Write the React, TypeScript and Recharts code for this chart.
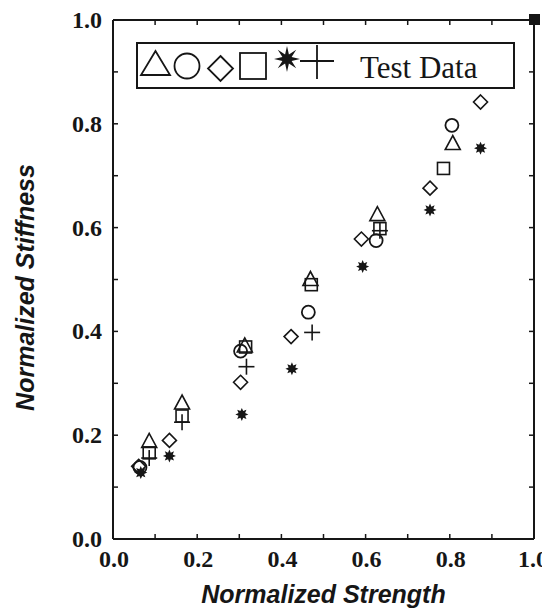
import React from 'react';
import { ScatterChart, Scatter, XAxis, YAxis, Legend } from 'recharts';

// test data, one array per marker type
const triangleData = [
  { x: 0.086, y: 0.188 },
  { x: 0.164, y: 0.262 },
  { x: 0.313, y: 0.372 },
  { x: 0.469, y: 0.5 },
  { x: 0.628, y: 0.625 },
  { x: 0.807, y: 0.762 },
];
const circleData = [
  { x: 0.064, y: 0.138 },
  { x: 0.303, y: 0.362 },
  { x: 0.464, y: 0.437 },
  { x: 0.625, y: 0.575 },
  { x: 0.805, y: 0.797 },
];
const diamondData = [
  { x: 0.061, y: 0.14 },
  { x: 0.134, y: 0.19 },
  { x: 0.303, y: 0.302 },
  { x: 0.423, y: 0.39 },
  { x: 0.59, y: 0.578 },
  { x: 0.753, y: 0.676 },
  { x: 0.873, y: 0.842 },
];
const squareData = [
  { x: 0.086, y: 0.166 },
  { x: 0.164, y: 0.237 },
  { x: 0.315, y: 0.37 },
  { x: 0.471, y: 0.49 },
  { x: 0.634, y: 0.598 },
  { x: 0.785, y: 0.714 },
];
const starData = [
  { x: 0.066, y: 0.128 },
  { x: 0.134, y: 0.16 },
  { x: 0.306, y: 0.24 },
  { x: 0.425, y: 0.328 },
  { x: 0.593, y: 0.525 },
  { x: 0.753, y: 0.634 },
  { x: 0.873, y: 0.753 },
];
const plusData = [
  { x: 0.086, y: 0.156 },
  { x: 0.164, y: 0.225 },
  { x: 0.317, y: 0.332 },
  { x: 0.473, y: 0.398 },
  { x: 0.634, y: 0.594 },
];
const cornerData = [{ x: 1.0, y: 1.0 }];

const tickValues = [0, 0.1, 0.2, 0.3, 0.4, 0.5, 0.6, 0.7, 0.8, 0.9, 1.0];
const legendText = 'Test Data';

const INK = '#161616';
const SERIF = '"Liberation Serif", "Times New Roman", serif';
const SANS = '"Liberation Sans", Arial, sans-serif';

const isMajor = (v: number) => Math.round(v * 10) % 2 === 0;

// marker shapes
const Triangle = ({ cx, cy }: any) => (
  <polygon points={`${cx},${cy - 8} ${cx - 7.5},${cy + 6} ${cx + 7.5},${cy + 6}`} fill="none" stroke={INK} strokeWidth={1.6} />
);
const Circle = ({ cx, cy }: any) => <circle cx={cx} cy={cy} r={6.5} fill="none" stroke={INK} strokeWidth={1.8} />;
const Diamond = ({ cx, cy }: any) => (
  <polygon points={`${cx},${cy - 7} ${cx + 7},${cy} ${cx},${cy + 7} ${cx - 7},${cy}`} fill="none" stroke={INK} strokeWidth={1.6} />
);
const Square = ({ cx, cy }: any) => (
  <rect x={cx - 6} y={cy - 6} width={12} height={12} fill="none" stroke={INK} strokeWidth={1.6} />
);
const starPoints = (cx: number, cy: number, ro: number, ri: number) => {
  const pts: string[] = [];
  for (let i = 0; i < 16; i++) {
    const r = i % 2 === 0 ? ro : ri;
    const a = (Math.PI / 8) * i - Math.PI / 2;
    pts.push(`${cx + r * Math.cos(a)},${cy + r * Math.sin(a)}`);
  }
  return pts.join(' ');
};
const Star = ({ cx, cy }: any) => <polygon points={starPoints(cx, cy, 6.5, 3.6)} fill={INK} />;
const Plus = ({ cx, cy }: any) => (
  <g stroke={INK} strokeWidth={1.6}>
    <line x1={cx - 8} y1={cy} x2={cx + 8} y2={cy} />
    <line x1={cx} y1={cy - 8} x2={cx} y2={cy + 8} />
  </g>
);
const Filled = ({ cx, cy }: any) => <rect x={cx - 5} y={cy - 6} width={11} height={11} fill={INK} />;

// ticks point inward, labels only on every other tick
const BottomTick = ({ x, y, payload }: any) => {
  const v = payload.value;
  const shift = v >= 1 ? -1 : 1;
  return (
    <g>
      <line x1={x} y1={y} x2={x} y2={y - 5} stroke={INK} strokeWidth={1.5} />
      {isMajor(v) && (
        <text x={x + shift} y={y + 28} textAnchor="middle" fontFamily={SERIF} fontWeight="bold" fontSize={24} fill={INK}>
          {v.toFixed(1)}
        </text>
      )}
    </g>
  );
};
const LeftTick = ({ x, y, payload }: any) => (
  <g>
    <line x1={x} y1={y} x2={x + 5} y2={y} stroke={INK} strokeWidth={1.5} />
    {isMajor(payload.value) && (
      <text x={x - 11} y={y + 8} textAnchor="end" fontFamily={SERIF} fontWeight="bold" fontSize={24} fill={INK}>
        {payload.value.toFixed(1)}
      </text>
    )}
  </g>
);
const TopTick = ({ x, y }: any) => <line x1={x} y1={y} x2={x} y2={y + 5} stroke={INK} strokeWidth={1.5} />;
const RightTick = ({ x, y }: any) => <line x1={x} y1={y} x2={x - 5} y2={y} stroke={INK} strokeWidth={1.5} />;

const XTitle = ({ viewBox }: any) => (
  <text x={viewBox.x + viewBox.width / 2} y={viewBox.y + viewBox.height - 5} textAnchor="middle"
    fontFamily={SANS} fontWeight="bold" fontStyle="italic" fontSize={25} fill={INK}>
    Normalized Strength
  </text>
);
const YTitle = ({ viewBox }: any) => {
  const cx = 17;
  const cy = viewBox.y + viewBox.height / 2 + 8;
  return (
    <text x={cx} y={cy} transform={`rotate(-90, ${cx}, ${cy})`} textAnchor="middle" dominantBaseline="central"
      fontFamily={SANS} fontWeight="bold" fontStyle="italic" fontSize={25} fill={INK}>
      Normalized Stiffness
    </text>
  );
};

const LegendBox = () => (
  <div style={{ width: 379, height: 47, border: `2px solid ${INK}`, boxSizing: 'border-box', background: '#fff' }}>
    <svg width={375} height={43} style={{ display: 'block' }}>
      <g fill="none" stroke={INK} strokeWidth={1.8}>
        <polygon points="17.5,7 3,31 32,31" />
        <circle cx={49} cy={22} r={12.5} />
        <polygon points="82.5,12 95,24.5 82.5,37 70,24.5" />
        <rect x={102} y={9} width={26} height={26} />
        <line x1={162} y1={17} x2={196} y2={17} />
        <line x1={179} y1={1} x2={179} y2={35} />
      </g>
      <polygon points={starPoints(149, 15, 13, 5)} fill={INK} />
      <text x={222} y={34} fontFamily={SERIF} fontSize={31} fill={INK}>{legendText}</text>
    </svg>
  </div>
);

export default function App() {
  return (
    <ScatterChart width={542} height={600} margin={{ top: 11, right: 15, left: 0, bottom: 0 }}>
      <XAxis
        xAxisId="bottom"
        dataKey="x"
        type="number"
        domain={[0, 1]}
        ticks={tickValues}
        interval={0}
        height={69}
        tickSize={0}
        tickMargin={0}
        tickLine={false}
        axisLine={{ stroke: INK, strokeWidth: 2 }}
        tick={<BottomTick />}
        label={<XTitle />}
      />
      <XAxis
        xAxisId="top"
        orientation="top"
        dataKey="x"
        type="number"
        domain={[0, 1]}
        ticks={tickValues}
        interval={0}
        height={1}
        tickSize={0}
        tickMargin={0}
        tickLine={false}
        axisLine={{ stroke: INK, strokeWidth: 2 }}
        tick={<TopTick />}
      />
      <YAxis
        yAxisId="left"
        dataKey="y"
        type="number"
        domain={[0, 1]}
        ticks={tickValues}
        interval={0}
        width={105}
        tickSize={0}
        tickMargin={0}
        tickLine={false}
        axisLine={{ stroke: INK, strokeWidth: 2 }}
        tick={<LeftTick />}
        label={<YTitle />}
      />
      <YAxis
        yAxisId="right"
        orientation="right"
        dataKey="y"
        type="number"
        domain={[0, 1]}
        ticks={tickValues}
        interval={0}
        width={1}
        tickSize={0}
        tickMargin={0}
        tickLine={false}
        axisLine={{ stroke: INK, strokeWidth: 2 }}
        tick={<RightTick />}
      />
      <Legend
        layout="horizontal"
        verticalAlign="middle"
        align="center"
        content={<LegendBox />}
        wrapperStyle={{ left: 128, top: 34, width: 379, height: 47 }}
      />
      <Scatter name="triangle" data={triangleData} xAxisId="bottom" yAxisId="left" shape={<Triangle />} isAnimationActive={false} />
      <Scatter name="circle" data={circleData} xAxisId="bottom" yAxisId="left" shape={<Circle />} isAnimationActive={false} />
      <Scatter name="diamond" data={diamondData} xAxisId="bottom" yAxisId="left" shape={<Diamond />} isAnimationActive={false} />
      <Scatter name="square" data={squareData} xAxisId="bottom" yAxisId="left" shape={<Square />} isAnimationActive={false} />
      <Scatter name="star" data={starData} xAxisId="bottom" yAxisId="left" shape={<Star />} isAnimationActive={false} />
      <Scatter name="plus" data={plusData} xAxisId="bottom" yAxisId="left" shape={<Plus />} isAnimationActive={false} />
      <Scatter name="corner" data={cornerData} xAxisId="top" yAxisId="right" shape={<Filled />} isAnimationActive={false} />
    </ScatterChart>
  );
}
